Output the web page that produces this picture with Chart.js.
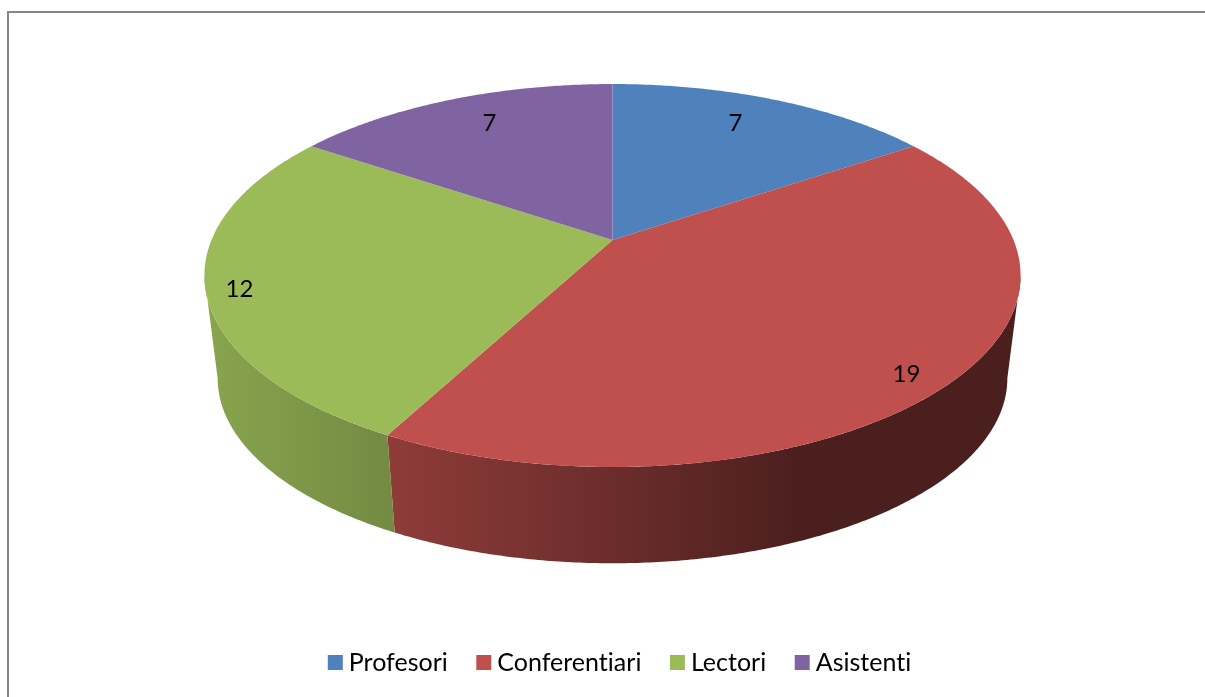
<!DOCTYPE html>
<html>
<head>
<meta charset="utf-8">
<style>
  html, body { margin: 0; padding: 0; background: #fff; }
  canvas { display: block; }
</style>
<script src="https://cdn.jsdelivr.net/npm/chart.js@4"></script>
</head>
<body>
<canvas id="grafic" width="1205" height="697"></canvas>
<script>
// Date
const categorii = ['Profesori', 'Conferentiari', 'Lectori', 'Asistenti'];
const valori = [7, 19, 12, 7];
const culori = ['#4F81BD', '#C0504D', '#9BBB59', '#8064A2'];

// Perspectiva discului (3D pie): centrul, razele si adancimea
const cx = 612.5;
const k = 0.1854;
const sus = { cy: 240, a: 401, b: 184.9 };
const jos = { cy: 344, a: 388, b: 178.6 };

// Cat de departe de centru stau etichetele, pe x si pe y
const etichetaRx = [0.732, 0.879, 0.919, 0.732];
const etichetaRy = [0.81, 0.955, 1.05, 0.81];

// Umbrirea peretelui lateral, de la stanga la dreapta
const umbre = [[0, 0.88], [0.015, 0.87], [0.225, 0.745], [0.58, 0.5], [0.73, 0.39], [1, 0.39]];

function proiectie(disc, unghi, r) {
    const u = Math.cos(unghi) * r;
    const v = Math.sin(unghi) * r;
    const w = 1 - k * v;
    return { x: cx + disc.a * u / w, y: disc.cy + disc.b * v / w };
}

function umbreste(hex, f) {
    const n = parseInt(hex.slice(1), 16);
    return `rgb(${Math.round((n >> 16) * f)}, ${Math.round(((n >> 8) & 255) * f)}, ${Math.round((n & 255) * f)})`;
}

const cadru = {
    id: 'cadru',
    beforeDraw(chart) {
        const ctx = chart.ctx;
        ctx.letterSpacing = '0.01px'; // fara ligatura "ti" din Lato
        ctx.fillStyle = '#ffffff';
        ctx.fillRect(0, 0, 1205, 697);
        ctx.fillStyle = '#868686';
        ctx.fillRect(7, 11, 1198, 2);
        ctx.fillRect(7, 11, 2, 686);
    }
};

const pie3d = {
    id: 'pie3d',
    beforeDatasetDraw(chart, args) {
        const ctx = chart.ctx;
        const felii = args.meta.data;
        const pas = Math.PI / 360;
        // peretele se vede doar intre cele doua margini laterale ale discului
        const margine = Math.asin(k);

        // peretii laterali
        felii.forEach((arc, i) => {
            const start = Math.max(arc.startAngle, margine);
            const end = Math.min(arc.endAngle, Math.PI - margine);
            if (start >= end) return;
            const g = ctx.createLinearGradient(205, 0, 1021, 0);
            umbre.forEach(([p, f]) => g.addColorStop(p, umbreste(culori[i], f)));
            ctx.fillStyle = g;
            ctx.beginPath();
            for (let t = start; t < end; t += pas) {
                const p = proiectie(sus, t, 1);
                ctx.lineTo(p.x, p.y);
            }
            let p = proiectie(sus, end, 1);
            ctx.lineTo(p.x, p.y);
            for (let t = end; t > start; t -= pas) {
                p = proiectie(jos, t, 1);
                ctx.lineTo(p.x, p.y);
            }
            p = proiectie(jos, start, 1);
            ctx.lineTo(p.x, p.y);
            ctx.closePath();
            ctx.fill();
        });

        // fata de sus
        felii.forEach((arc, i) => {
            ctx.fillStyle = culori[i];
            ctx.beginPath();
            ctx.moveTo(cx, sus.cy);
            for (let t = arc.startAngle; t < arc.endAngle; t += pas) {
                const p = proiectie(sus, t, 1);
                ctx.lineTo(p.x, p.y);
            }
            const p = proiectie(sus, arc.endAngle, 1);
            ctx.lineTo(p.x, p.y);
            ctx.closePath();
            ctx.fill();
        });

        // etichete
        ctx.fillStyle = '#000000';
        ctx.font = '24px Lato';
        ctx.textAlign = 'center';
        ctx.textBaseline = 'middle';
        felii.forEach((arc, i) => {
            const mijloc = (arc.startAngle + arc.endAngle) / 2;
            const x = proiectie(sus, mijloc, etichetaRx[i]).x;
            const y = proiectie(sus, mijloc, etichetaRy[i]).y;
            ctx.fillText(String(valori[i]), x, y);
        });
        return false;
    }
};

new Chart(document.getElementById('grafic').getContext('2d'), {
    type: 'pie',
    data: {
        labels: categorii,
        datasets: [{ data: valori, backgroundColor: culori, borderWidth: 0 }]
    },
    options: {
        responsive: false,
        animation: false,
        layout: { padding: { bottom: 12, left: 41 } },
        plugins: {
            tooltip: { enabled: false },
            legend: {
                position: 'bottom',
                labels: {
                    color: '#000000',
                    font: { family: 'Lato', size: 25 },
                    usePointStyle: true,
                    pointStyle: 'rect',
                    boxWidth: 2,
                    boxHeight: 15,
                    padding: 35
                }
            }
        }
    },
    plugins: [cadru, pie3d]
});
</script>
</body>
</html>
